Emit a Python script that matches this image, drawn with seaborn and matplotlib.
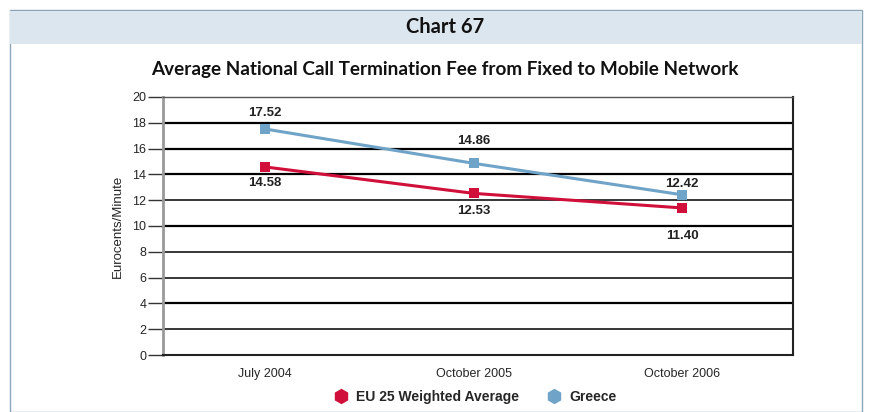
import matplotlib
matplotlib.use("Agg")
import matplotlib.pyplot as plt
import seaborn as sns
import pandas as pd
from matplotlib.patches import Rectangle
from matplotlib.lines import Line2D

# ── Data ─────────────────────────────────────────────────────
periods = ["July 2004", "October 2005", "October 2006"]
eu25 = [14.58, 12.53, 11.40]
greece = [17.52, 14.86, 12.42]
series_names = ["EU 25 Weighted Average", "Greece"]
colors = {"EU 25 Weighted Average": "#d0103a", "Greece": "#6fa3c8"}

df = pd.DataFrame({
    "Period": periods * 2,
    "Value": eu25 + greece,
    "Series": [series_names[0]] * 3 + [series_names[1]] * 3,
})
df["x"] = df["Period"].map({p: i for i, p in enumerate(periods)})

sns.set_style("white")
narrow = ["Liberation Sans Narrow", "Liberation Sans", "DejaVu Sans"]
plt.rcParams["font.family"] = narrow

fig = plt.figure(figsize=(8.7, 4.12), dpi=100)
W, H = 870, 412

# ── Frame & header band ──────────────────────────────────────
fig.patches.append(Rectangle((10 / W, 0), 852 / W, (H - 10) / H, transform=fig.transFigure,
                             facecolor="white", edgecolor="#8aa4b8", lw=1.0, zorder=-2))
fig.patches.append(Rectangle((10 / W, 1 - 44 / H), 852 / W, 33 / H, transform=fig.transFigure,
                             facecolor="#dce6ee", edgecolor="none", zorder=-1))
fig.text(445 / W, 1 - 27 / H, "Chart 67", ha="center", va="center", fontsize=14.5,
         fontweight="bold", family=["Lato", "DejaVu Sans"], color="#111111")
fig.text(445 / W, 1 - 69 / H, "Average National Call Termination Fee from Fixed to Mobile Network",
         ha="center", va="center", fontsize=13.6, fontweight="bold",
         family=["Lato", "DejaVu Sans"], color="#111111")

# ── Axes ─────────────────────────────────────────────────────
ax = fig.add_axes([163 / W, 1 - 355 / H, (793 - 163) / W, (355 - 97) / H])
ax.set_zorder(1)
sns.lineplot(data=df, x="x", y="Value", hue="Series", palette=colors, marker="s",
             markersize=7, markeredgewidth=0, linewidth=2.2, ax=ax, legend=False)

ax.set_xlim(-0.489, 2.532)
ax.set_ylim(0, 20)
ax.set_yticks(range(0, 21, 2))
ax.set_xticks(range(len(periods)))
ax.set_xticklabels(periods)
ax.set_xlabel("")
ax.set_ylabel("Eurocents/Minute", fontsize=9.5, labelpad=6)
ax.tick_params(axis="y", left=True, length=11, width=1, color="#333333", labelsize=9, pad=1)
ax.tick_params(axis="x", bottom=False, labelsize=9, pad=6)
for y in range(2, 21, 2):
    ax.axhline(y, color="black", lw=1.6 if y in (4, 10, 14, 16, 18) else 1.1, zorder=0)
ax.spines["left"].set_color("#999999")
ax.spines["left"].set_linewidth(2)
for s in ["right", "bottom", "top"]:
    ax.spines[s].set_color("#222222")
    ax.spines[s].set_linewidth(1.5)
ax.spines["top"].set_color("#555555")
ax.spines["top"].set_linewidth(1)

# ── Data labels (vertical offsets in pixels, as placed in the source) ──
greece_off = [16, 22, 11]
eu25_off = [-16, -18, -28]
for i, v in enumerate(greece):
    ax.annotate(f"{v:.2f}", (i, v), xytext=(0, greece_off[i] * 0.72), textcoords="offset points",
                ha="center", va="center", fontsize=9.5, fontweight="bold", color="#222222")
for i, v in enumerate(eu25):
    ax.annotate(f"{v:.2f}", (i, v), xytext=(0, eu25_off[i] * 0.72), textcoords="offset points",
                ha="center", va="center", fontsize=9.5, fontweight="bold", color="#222222")

# ── Legend ───────────────────────────────────────────────────
handles = [Line2D([], [], color=colors[n], marker="h", markersize=10, lw=0) for n in series_names]
fig.legend(handles, series_names, loc="center", bbox_to_anchor=(474 / W, 1 - 397 / H),
           ncol=2, frameon=False, columnspacing=1.8, handletextpad=0.4, handlelength=1.4,
           prop={"weight": "bold", "size": 10, "family": narrow})

fig.savefig("out.png", dpi=100)
